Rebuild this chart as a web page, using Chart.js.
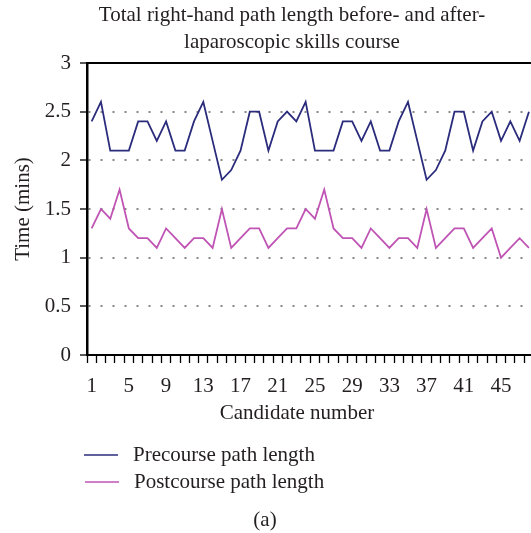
<!DOCTYPE html>
<html>
<head>
<meta charset="utf-8">
<script src="https://cdn.jsdelivr.net/npm/chart.js@4.4.1/dist/chart.umd.min.js"></script>
<style>
html, body { margin: 0; padding: 0; overflow: hidden; background: #fff; width: 531px; height: 533px; }
#wrap { width: 540px; height: 533px; position: relative; }
canvas { display: block; }
</style>
</head>
<body>
<div id="wrap"><canvas id="c" width="540" height="533"></canvas></div>
<script>
// ---- Data ----
const candidates = ['1','2','3','4','5','6','7','8','9','10','11','12','13','14','15','16',
  '17','18','19','20','21','22','23','24','25','26','27','28','29','30','31','32',
  '33','34','35','36','37','38','39','40','41','42','43','44','45','46','47','48'];

const precourse = [2.4, 2.6, 2.1, 2.1, 2.1, 2.4, 2.4, 2.2, 2.4, 2.1, 2.1, 2.4,
  2.6, 2.2, 1.8, 1.9, 2.1, 2.5, 2.5, 2.1, 2.4, 2.5, 2.4, 2.6,
  2.1, 2.1, 2.1, 2.4, 2.4, 2.2, 2.4, 2.1, 2.1, 2.4, 2.6, 2.2,
  1.8, 1.9, 2.1, 2.5, 2.5, 2.1, 2.4, 2.5, 2.2, 2.4, 2.2, 2.5];

const postcourse = [1.3, 1.5, 1.4, 1.7, 1.3, 1.2, 1.2, 1.1, 1.3, 1.2, 1.1, 1.2,
  1.2, 1.1, 1.5, 1.1, 1.2, 1.3, 1.3, 1.1, 1.2, 1.3, 1.3, 1.5,
  1.4, 1.7, 1.3, 1.2, 1.2, 1.1, 1.3, 1.2, 1.1, 1.2, 1.2, 1.1,
  1.5, 1.1, 1.2, 1.3, 1.3, 1.1, 1.2, 1.3, 1.0, 1.1, 1.2, 1.1];

const xTickLabels = ['1','5','9','13','17','21','25','29','33','37','41','45'];
const yTickValues = [0, 0.5, 1, 1.5, 2, 2.5, 3];
const yTickLabels = ['0', '0.5', '1', '1.5', '2', '2.5', '3'];

const seriesNames = ['Precourse path length', 'Postcourse path length'];
const titleLines = ['Total right-hand path length before- and after-', 'laparoscopic skills course'];
const xTitle = 'Candidate number';
const yTitle = 'Time (mins)';
const caption = '(a)';

// ---- Styles ----
const FONT = '"Liberation Serif", "Times New Roman", serif';
const FS = 21;
const TEXT = '#231f20';
const NAVY = '#2b2c7c';
const PINK = '#c054b4';

const textPlugin = {
  id: 'texts',
  afterDraw(chart) {
    const ctx = chart.ctx;
    const a = chart.chartArea;
    ctx.save();
    // top frame line
    ctx.strokeStyle = '#000';
    ctx.lineWidth = 2;
    ctx.beginPath();
    ctx.moveTo(a.left, a.top);
    ctx.lineTo(a.right, a.top);
    ctx.stroke();

    ctx.fillStyle = TEXT;
    ctx.font = FS + 'px ' + FONT;
    ctx.textAlign = 'center';
    ctx.textBaseline = 'middle';
    ctx.fillText(titleLines[0], 292, 15);
    ctx.fillText(titleLines[1], 292, 42);
    ctx.fillText(xTitle, 297, 413);
    ctx.fillText(caption, 265, 520);

    // legend
    const ds = chart.data.datasets;
    const rows = [{y: 455, x0: 84, x1: 118, tx: 133}, {y: 482, x0: 85, x1: 119, tx: 134}];
    ds.forEach((d, i) => {
      const r = rows[i];
      ctx.strokeStyle = d.borderColor;
      ctx.lineWidth = 1.6;
      ctx.beginPath();
      ctx.moveTo(r.x0, r.y);
      ctx.lineTo(r.x1, r.y);
      ctx.stroke();
      ctx.textAlign = 'left';
      ctx.fillText(d.label, r.tx, r.y);
    });
    ctx.restore();
  }
};

new Chart(document.getElementById('c'), {
  type: 'line',
  data: {
    labels: candidates,
    datasets: [
      { label: seriesNames[0], data: precourse, borderColor: NAVY, backgroundColor: NAVY, borderWidth: 1.8, pointRadius: 0, tension: 0, fill: false },
      { label: seriesNames[1], data: postcourse, borderColor: PINK, backgroundColor: PINK, borderWidth: 1.8, pointRadius: 0, tension: 0, fill: false }
    ]
  },
  options: {
    responsive: false,
    animation: false,
    devicePixelRatio: 1,
    layout: { padding: { top: 63, left: 0, right: 6, bottom: 138 } },
    plugins: {
      legend: { display: false },
      title: { display: false },
      tooltip: { enabled: false }
    },
    scales: {
      x: {
        type: 'category',
        offset: true,
        grid: { display: true, offset: true, drawOnChartArea: false, drawTicks: true, tickLength: 8, tickColor: '#000', tickWidth: 1.3, color: '#000' },
        border: { display: true, color: '#000', width: 2 },
        ticks: {
          autoSkip: false, maxRotation: 0, minRotation: 0, padding: 11, color: TEXT,
          font: { family: FONT, size: FS },
          callback: function (v) { const l = this.getLabelForValue(v); return xTickLabels.includes(l) ? l : ''; }
        },
        afterFit: s => { s.height = 40; }
      },
      y: {
        min: 0, max: 3,
        afterBuildTicks: s => { s.ticks = yTickValues.map(v => ({ value: v })); },
        ticks: {
          padding: 9, color: TEXT, font: { family: FONT, size: FS },
          callback: v => yTickLabels[yTickValues.indexOf(v)]
        },
        grid: {
          color: c => (c.tick && (c.tick.value === 0 || c.tick.value === 3)) ? 'rgba(0,0,0,0)' : '#888',
          lineWidth: 2, drawTicks: true, tickLength: 7, tickColor: '#000', tickWidth: 1.3, tickBorderDash: []
        },
        border: { display: true, color: '#000', width: 2.5, dash: [2, 10] },
        title: { display: true, text: yTitle, color: TEXT, font: { family: FONT, size: FS }, padding: { top: 11, bottom: 0 } },
        afterFit: s => { s.width = 87; }
      }
    }
  },
  plugins: [textPlugin]
});
</script>
</body>
</html>
